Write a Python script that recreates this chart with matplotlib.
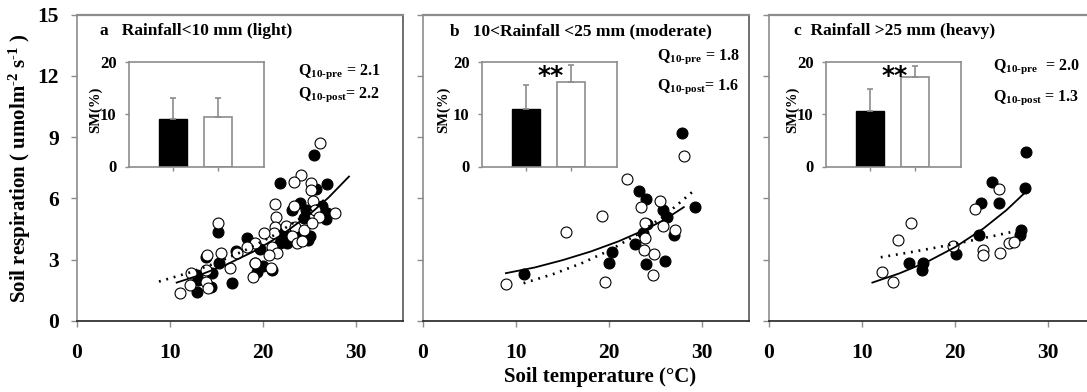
import matplotlib
matplotlib.use("Agg")
import matplotlib.pyplot as plt

plt.rcParams['font.family'] = ['Liberation Serif', 'DejaVu Serif']
plt.rcParams['font.weight'] = 'bold'
plt.rcParams['mathtext.fontset'] = 'custom'
plt.rcParams['mathtext.rm'] = 'Liberation Serif:bold'
plt.rcParams['mathtext.bf'] = 'Liberation Serif:bold'
plt.rcParams['mathtext.it'] = 'Liberation Serif:bold'
plt.rcParams['mathtext.default'] = 'rm'

# ---------------- data ----------------
titles = ["a   Rainfall<10 mm (light)",
          "b   10<Rainfall <25 mm (moderate)",
          "c  Rainfall >25 mm (heavy)"]
q10_pre_lbl = [r'Q$_{\text{10-pre}}$ = 2.1', r'Q$_{\text{10-pre}}$ = 1.8', r'Q$_{\text{10-pre}}$  = 2.0']
q10_post_lbl = [r'Q$_{\text{10-post}}$= 2.2', r'Q$_{\text{10-post}}$= 1.6', r'Q$_{\text{10-post}}$ = 1.3']

x_ticks = [0, 10, 20, 30]
y_ticks = [0, 3, 6, 9, 12, 15]
sm_ticks = [0, 10, 20]

# panel a: filled (pre) and open (post) points
a_pre_x = [25.4, 21.8, 26.8, 25.7, 15.1, 23.9, 23.1, 24.6, 26.3, 26.8, 26.7, 24.4, 22.1, 21.8, 22.5,
           23.8, 25.0, 24.8, 19.7, 18.2, 17.1, 15.2, 13.9, 19.1, 20.0, 19.3, 20.9, 14.5, 12.9, 16.6,
           14.4, 12.9, 13.0]
a_pre_y = [8.14, 6.75, 6.72, 6.45, 4.35, 5.77, 5.44, 5.44, 5.64, 5.28, 4.99, 5.03, 4.30, 3.81, 3.81,
           4.30, 4.14, 3.97, 3.51, 4.05, 3.41, 2.86, 3.15, 2.86, 2.67, 2.42, 2.50, 2.33, 2.25, 1.85,
           1.68, 1.44, 2.00]
a_post_x = [26.1, 24.1, 25.1, 23.3, 25.1, 21.3, 23.3, 25.3, 25.6, 27.7, 26.0, 21.4, 21.3, 22.4, 23.4,
            24.4, 25.2, 23.1, 23.6, 24.2, 21.1, 20.1, 19.1, 20.9, 21.5, 20.6, 18.2, 19.1, 20.8, 18.9,
            16.4, 15.1, 15.5, 17.2, 14.0, 12.2, 12.1, 13.8, 14.1, 11.1, 13.8]
a_post_y = [8.70, 7.16, 6.75, 6.78, 6.42, 5.72, 5.64, 5.85, 5.44, 5.28, 5.11, 5.11, 4.62, 4.66, 4.62,
            4.46, 4.79, 4.14, 3.81, 3.90, 4.30, 4.30, 3.81, 3.64, 3.31, 3.23, 3.64, 2.83, 2.58, 2.17,
            2.58, 4.79, 3.31, 3.31, 3.23, 2.33, 1.76, 1.93, 1.60, 1.39, 2.50]
a_solid_x = [10.7, 13, 16, 19, 22, 25, 27, 29.2]
a_solid_y = [1.88, 2.22, 2.75, 3.41, 4.22, 5.23, 6.04, 7.07]
a_dot_x = [8.8, 12, 15, 18, 21, 24, 27]
a_dot_y = [1.93, 2.36, 2.85, 3.45, 4.16, 5.03, 6.08]

# panel b
b_pre_x = [27.8, 23.2, 23.9, 25.8, 26.2, 29.2, 24.1, 23.6, 27.0, 22.8, 20.3, 20.0, 23.9, 26.0, 10.8]
b_pre_y = [9.20, 6.34, 5.96, 5.41, 5.08, 5.60, 4.75, 4.30, 4.22, 3.77, 3.40, 2.83, 2.79, 2.93, 2.29]
b_post_x = [28.0, 21.9, 25.4, 23.4, 23.8, 25.8, 27.1, 23.8, 23.7, 24.8, 24.7, 19.2, 15.4, 19.5, 8.9]
b_post_y = [8.09, 6.95, 5.88, 5.57, 4.82, 4.66, 4.43, 4.05, 3.48, 3.28, 2.27, 5.15, 4.36, 1.93, 1.81]
b_solid_x = [8.9, 12, 15, 18, 21, 24, 26, 28]
b_solid_y = [2.34, 2.62, 2.98, 3.40, 3.90, 4.50, 4.98, 5.57]
b_dot_x = [10.8, 14, 17, 20, 23, 26, 29]
b_dot_y = [1.85, 2.30, 2.82, 3.45, 4.23, 5.18, 6.35]

# panel c
c_pre_x = [27.6, 23.9, 27.5, 22.8, 24.7, 27.1, 27.0, 22.5, 20.1, 15.0, 16.5, 16.4]
c_pre_y = [8.25, 6.78, 6.50, 5.77, 5.77, 4.46, 4.22, 4.22, 3.28, 2.86, 2.86, 2.50]
c_post_x = [24.7, 22.1, 15.2, 13.9, 19.8, 23.0, 23.0, 24.8, 25.8, 26.3, 12.1, 13.3]
c_post_y = [6.46, 5.49, 4.82, 3.94, 3.68, 3.48, 3.24, 3.32, 3.81, 3.87, 2.39, 1.90]
c_solid_x = [11.1, 14, 17, 20, 23, 25.5, 27.5]
c_solid_y = [1.88, 2.33, 2.90, 3.62, 4.52, 5.43, 6.29]
c_dot_x = [12, 15, 18, 21, 24, 26.3]
c_dot_y = [3.12, 3.35, 3.60, 3.87, 4.15, 4.38]

# inset bars: soil moisture (%) pre (black) and post (white), with error
sm_pre = [9.0, 11.0, 10.6]
sm_pre_err = [4.2, 4.6, 4.3]
sm_post = [9.4, 16.2, 17.1]
sm_post_err = [3.7, 3.3, 2.2]
sm_sig = ["", "**", "**"]

panels = [
    (a_pre_x, a_pre_y, a_post_x, a_post_y, a_solid_x, a_solid_y, a_dot_x, a_dot_y),
    (b_pre_x, b_pre_y, b_post_x, b_post_y, b_solid_x, b_solid_y, b_dot_x, b_dot_y),
    (c_pre_x, c_pre_y, c_post_x, c_post_y, c_solid_x, c_solid_y, c_dot_x, c_dot_y),
]

# ---------------- layout ----------------
W, H = 1087, 392
fig = plt.figure(figsize=(W / 100, H / 100), dpi=100)
fig.patch.set_facecolor('white')

def fx(px):
    return px / W

def fy(py):
    return 1 - py / H

main_left = [77, 423, 769]
main_w = 326
ax_top, ax_bot = 14.5, 321
inset_left = [129, 482, 826]
inset_w = 135
inset_top, inset_bot = 62, 166.5
q_pos = [(298, 72, 95), (657, 57, 87), (993, 67, 98)]
title_x = [100, 450, 794]
sm_label_x = [95, 443, 792]

grey = '#8c8c8c'

for i in range(3):
    ax = fig.add_axes([fx(main_left[i]), fy(ax_bot), fx(main_w), (ax_bot - ax_top) / H])
    prx, pry, pox, poy, sx, sy, dx, dy = panels[i]
    ax.scatter(prx, pry, s=62, facecolor='black', edgecolor='black', linewidth=0.8, zorder=3)
    ax.scatter(pox, poy, s=62, facecolor='white', edgecolor='black', linewidth=0.8, zorder=4)
    ax.plot(sx, sy, color='black', lw=1.3, zorder=5)
    ax.plot(dx, dy, color='black', lw=1.9, linestyle=(0, (0.7, 2.2)), zorder=5)
    ax.set_xlim(0, 35)
    ax.set_ylim(0, 15)
    ax.set_xticks(x_ticks)
    ax.set_yticks(y_ticks)
    ax.tick_params(axis='both', direction='out', length=4, width=1, color=grey,
                   labelsize=15.5, pad=12)
    ax.tick_params(axis='y', pad=9)
    for lab in ax.get_xticklabels() + ax.get_yticklabels():
        lab.set_fontweight('bold')
    if i > 0:
        ax.set_yticklabels([])
    ax.spines['bottom'].set_color('#222222')
    ax.spines['bottom'].set_linewidth(1.2)
    ax.spines['left'].set_color(grey)
    ax.spines['left'].set_linewidth(1.2)
    ax.spines['top'].set_color(grey)
    ax.spines['top'].set_linewidth(1.6)
    ax.spines['right'].set_color('#555555')
    ax.spines['right'].set_linewidth(1.2)
    ax.set_facecolor('none')

    fig.text(fx(title_x[i]), fy(31), titles[i], fontsize=12.5, fontweight='bold',
             va='center', ha='left')
    qx, qy1, qy2 = q_pos[i]
    fig.text(fx(qx), fy(qy1), q10_pre_lbl[i], fontsize=11.5,
             fontweight='bold', va='center', ha='left')
    fig.text(fx(qx), fy(qy2), q10_post_lbl[i], fontsize=11.5,
             fontweight='bold', va='center', ha='left')

    # inset
    ia = fig.add_axes([fx(inset_left[i]), fy(inset_bot), fx(inset_w), (inset_bot - inset_top) / H])
    ia.bar([1], [sm_pre[i]], width=0.62, color='black', edgecolor='black', linewidth=1)
    ia.bar([2], [sm_post[i]], width=0.62, color='white', edgecolor=grey, linewidth=1.2)
    ia.errorbar([1], [sm_pre[i]], yerr=[[0], [sm_pre_err[i]]], fmt='none', ecolor=grey,
                elinewidth=1.2, capsize=2.5, capthick=1.2)
    ia.errorbar([2], [sm_post[i]], yerr=[[0], [sm_post_err[i]]], fmt='none', ecolor=grey,
                elinewidth=1.2, capsize=2.5, capthick=1.2)
    ia.set_xlim(0.03, 3.03)
    ia.set_ylim(0, 20)
    ia.set_yticks(sm_ticks)
    ia.set_xticks([1, 2])
    ia.set_xticklabels([])
    ia.tick_params(axis='both', direction='out', length=3, width=1, color=grey,
                   labelsize=12, pad=6)
    for lab in ia.get_yticklabels():
        lab.set_fontweight('bold')
    for sp in ia.spines.values():
        sp.set_color(grey)
        sp.set_linewidth(1.2)
    ia.set_facecolor('white')
    if sm_sig[i]:
        ia.text(1.55, 17.3, sm_sig[i], fontsize=18, fontweight='bold', ha='center',
                va='center', family=['DejaVu Sans'])
    fig.text(fx(sm_label_x[i]), fy(110), 'SM(%)', fontsize=10.5, fontweight='bold',
             rotation=90, va='center', ha='center')

fig.text(fx(20), fy(168), r'Soil respiration ( umolm$^{\text{-2}}$ s$^{\text{-1}}$ )',
         fontsize=15, fontweight='bold', rotation=90, va='center', ha='center')
fig.text(fx(600), fy(377), 'Soil temperature (°C)', fontsize=15, fontweight='bold',
         va='center', ha='center')

fig.savefig('out.png', dpi=100, facecolor='white')
